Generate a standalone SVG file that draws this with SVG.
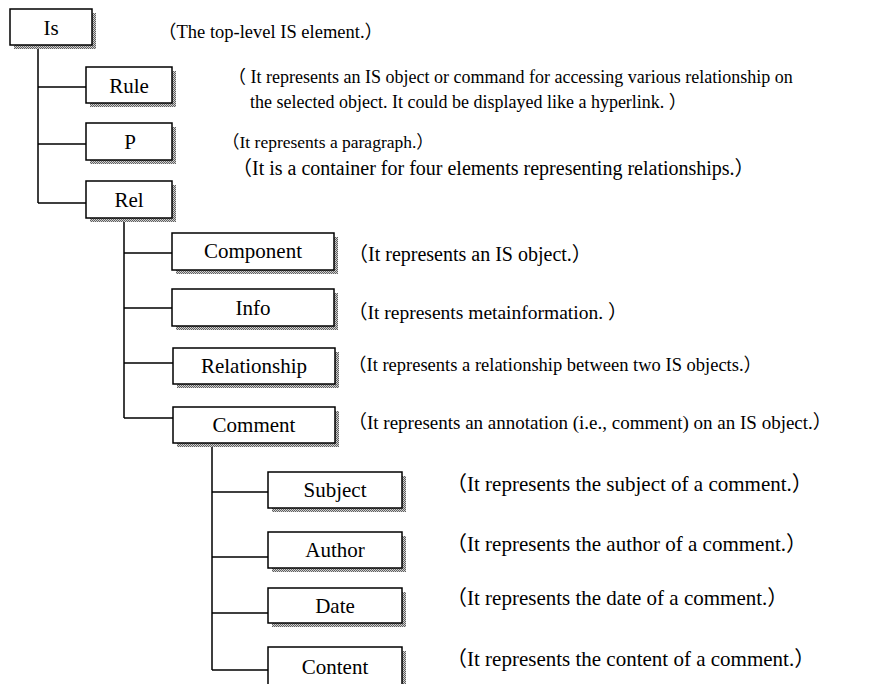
<svg xmlns="http://www.w3.org/2000/svg" width="881" height="684" viewBox="0 0 881 684">
<defs>
<pattern id="hatch" width="2" height="2" patternUnits="userSpaceOnUse">
<rect width="2" height="2" fill="#d0d0d0"/>
<rect width="1" height="1" fill="#606060"/>
<rect x="1" y="1" width="1" height="1" fill="#606060"/>
</pattern>
</defs>
<style>
.box{fill:#fff;stroke:#000;stroke-width:1.5}
.sh{fill:url(#hatch)}
.lbl{font-family:"Liberation Serif","Noto Sans CJK SC",serif;font-size:21px;text-anchor:middle;fill:#000}
.desc{font-family:"Liberation Serif","Noto Sans CJK SC",serif;font-size:18px;fill:#000}
.d3{font-size:21px}
.ln{stroke:#000;stroke-width:1.5;fill:none}
</style>
<rect width="881" height="684" fill="#fff"/>
<g id="connectors">
<path class="ln" d="M38 45V203M38 87H86M38 144H86M38 203H86"/>
<path class="ln" d="M124 218V418M124 253H172M124 308H172M124 363H173M124 418H173"/>
<path class="ln" d="M212 443V670M212 492H268M212 557H268M212 613H268M212 670H268"/>
</g>
<g id="n-is"><rect class="sh" x="14" y="13" width="82" height="36"/><rect class="box" x="10" y="9" width="82" height="36"/><text class="lbl" x="51" y="35">Is</text></g>
<g id="n-rule"><rect class="sh" x="90" y="71" width="86" height="36"/><rect class="box" x="86" y="67" width="86" height="36"/><text class="lbl" x="129" y="93">Rule</text></g>
<g id="n-p"><rect class="sh" x="90" y="127" width="86" height="37"/><rect class="box" x="86" y="123" width="86" height="37"/><text class="lbl" x="130" y="149">P</text></g>
<g id="n-rel"><rect class="sh" x="90" y="185" width="86" height="37"/><rect class="box" x="86" y="181" width="86" height="37"/><text class="lbl" x="129" y="207">Rel</text></g>
<g id="n-component"><rect class="sh" x="176" y="237" width="162" height="37"/><rect class="box" x="172" y="233" width="162" height="37"/><text class="lbl" x="253" y="258">Component</text></g>
<g id="n-info"><rect class="sh" x="176" y="293" width="162" height="37"/><rect class="box" x="172" y="289" width="162" height="37"/><text class="lbl" x="253" y="315">Info</text></g>
<g id="n-relationship"><rect class="sh" x="177" y="352" width="162" height="36"/><rect class="box" x="173" y="348" width="162" height="36"/><text class="lbl" x="254" y="373">Relationship</text></g>
<g id="n-comment"><rect class="sh" x="177" y="411" width="162" height="36"/><rect class="box" x="173" y="407" width="162" height="36"/><text class="lbl" x="254" y="432">Comment</text></g>
<g id="n-subject"><rect class="sh" x="272" y="476" width="134" height="36"/><rect class="box" x="268" y="472" width="134" height="36"/><text class="lbl" x="335" y="497">Subject</text></g>
<g id="n-author"><rect class="sh" x="272" y="536" width="134" height="36"/><rect class="box" x="268" y="532" width="134" height="36"/><text class="lbl" x="335" y="557">Author</text></g>
<g id="n-date"><rect class="sh" x="272" y="592" width="134" height="35"/><rect class="box" x="268" y="588" width="134" height="35"/><text class="lbl" x="335" y="613">Date</text></g>
<g id="n-content"><rect class="sh" x="272" y="651" width="134" height="40"/><rect class="box" x="268" y="647" width="134" height="40"/><text class="lbl" x="335" y="674">Content</text></g>
<g id="descriptions">
<text class="desc" x="158" y="38" style="font-size:18.5px">（The top-level IS element.）</text>
<text class="desc" x="228" y="83">（ It represents an IS object or command for accessing various relationship  on</text>
<text class="desc" x="250" y="108">the selected object. It could be displayed like a hyperlink. ）</text>
<text class="desc" x="222" y="148" style="font-size:17.5px">（It represents a paragraph.）</text>
<text class="desc" x="232" y="175" style="font-size:20px">（It is a container for four elements representing relationships.）</text>
<text class="desc" x="348" y="261" style="font-size:20px">（It represents an IS object.）</text>
<text class="desc" x="348" y="319" style="font-size:19.5px">（It represents metainformation. ）</text>
<text class="desc" x="348" y="371" style="font-size:18.5px">（It represents a relationship between two IS objects.）</text>
<text class="desc" x="348" y="429" style="font-size:19px">（It represents an annotation (i.e., comment) on an IS object.）</text>
<text class="desc d3" x="446" y="491">（It represents the subject of a comment.）</text>
<text class="desc d3" x="446" y="551">（It represents the author of a comment.）</text>
<text class="desc d3" x="446" y="605">（It represents the date of a comment.）</text>
<text class="desc d3" x="446" y="666">（It represents the content of a comment.）</text>
</g>
</svg>
